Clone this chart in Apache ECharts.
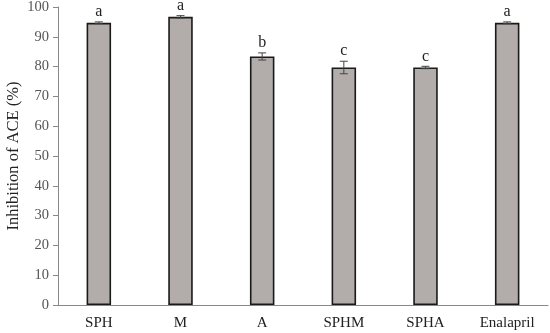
<!DOCTYPE html>
<html><head><meta charset="utf-8">
<script src="https://cdn.jsdelivr.net/npm/echarts@6/dist/echarts.min.js"></script>
<style>html,body{margin:0;padding:0;background:#fff}#c{width:550px;height:333px}</style>
</head><body><div id="c"></div>
<script>
var categories = ['SPH','M','A','SPHM','SPHA','Enalapril'];
var values = [94.7, 96.7, 83.4, 79.7, 79.7, 94.7];
var errors = [0.3, 0.4, 1.2, 2.1, 0.4, 0.3];
var letters = ['a','a','b','c','c','a'];
var yTicks = [0,10,20,30,40,50,60,70,80,90,100];

var font = '"Liberation Serif","Times New Roman",serif';
var chart = echarts.init(document.getElementById('c'));
chart.setOption({
  animation:false,
  grid:{left:58,right:2,top:7,bottom:28,containLabel:false,outerBoundsMode:'none'},
  xAxis:{type:'category',data:categories,
    axisLine:{lineStyle:{color:'#888',width:1}},
    axisTick:{show:false},
    axisLabel:{color:'#222',fontFamily:font,fontSize:15,margin:11}},
  yAxis:{type:'value',min:yTicks[0],max:yTicks[yTicks.length-1],interval:10,
    name:'Inhibition of ACE (%)',nameLocation:'middle',nameGap:36,nameMoveOverlap:false,
    nameTextStyle:{fontFamily:font,fontSize:16.5,color:'#222'},
    axisLine:{show:true,lineStyle:{color:'#888',width:1}},
    axisTick:{show:true,length:5,lineStyle:{color:'#888'}},
    splitLine:{show:false},
    axisLabel:{color:'#555',fontFamily:font,fontSize:14.5,margin:9}},
  series:[
    {type:'bar',data:values,barWidth:'30%',
     itemStyle:{color:'#b2adaa',borderColor:'#1a1a1a',borderWidth:1.6}},
    {type:'custom',data:values.map(function(v,i){return [i,v,errors[i]];}),
     renderItem:function(params,api){
       var i=api.value(0),v=api.value(1),e=api.value(2);
       var top=api.coord([i,v+e]),bot=api.coord([i,v-e]);
       var x=top[0],hw=4;
       var st={stroke:'#444',lineWidth:1};
       return {type:'group',children:[
         {type:'line',shape:{x1:x,y1:top[1],x2:x,y2:bot[1]},style:st},
         {type:'line',shape:{x1:x-hw,y1:top[1],x2:x+hw,y2:top[1]},style:st},
         {type:'line',shape:{x1:x-hw,y1:bot[1],x2:x+hw,y2:bot[1]},style:st},
         {type:'text',style:{text:letters[params.dataIndex],x:x,y:top[1]-10,
           textAlign:'center',textVerticalAlign:'middle',font:'16px '+font,fill:'#222'}}
       ]};
     },z:5}
  ]
});
</script></body></html>
